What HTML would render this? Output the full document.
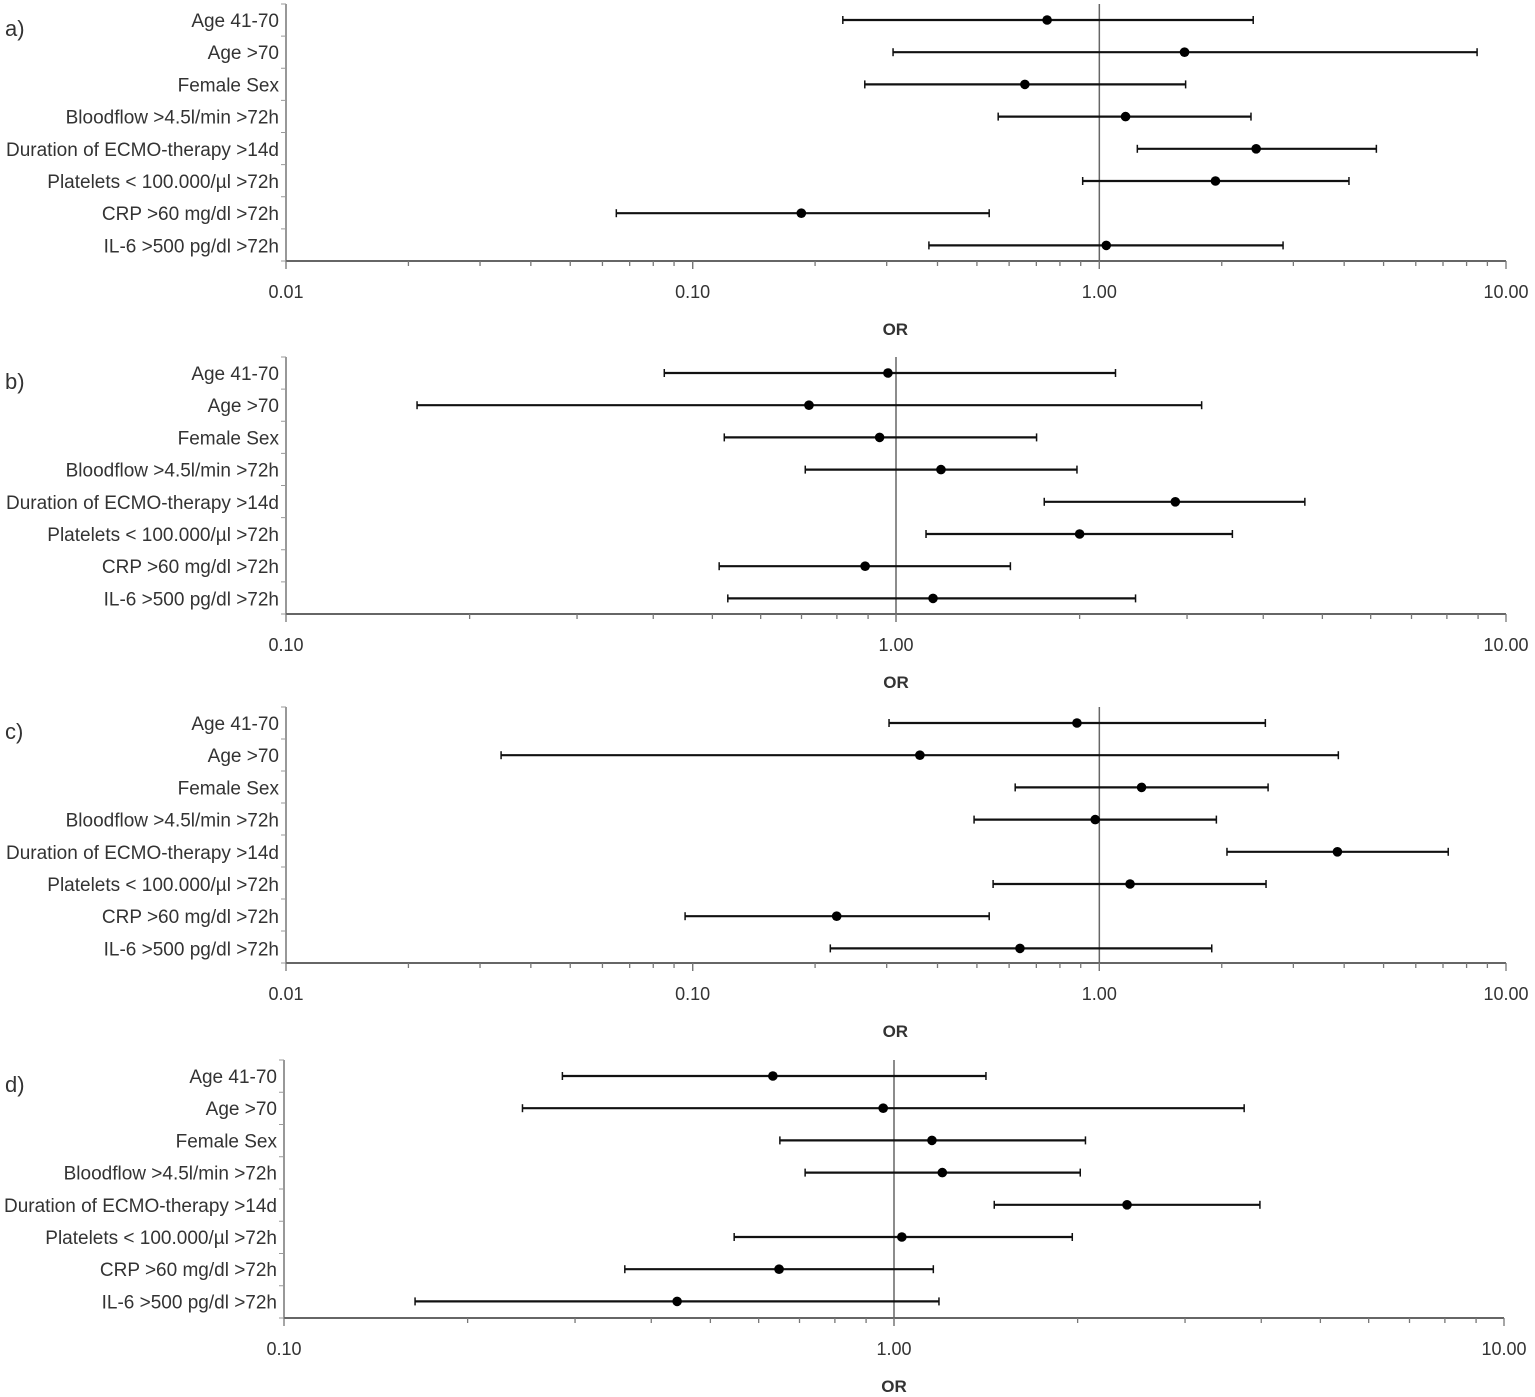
<!DOCTYPE html>
<html><head><meta charset="utf-8"><style>
html,body{margin:0;padding:0;background:#fff}
svg{display:block}
text{font-family:"Liberation Sans",Arial,sans-serif;fill:#333}
</style></head><body>
<svg id="chart" width="1535" height="1397" viewBox="0 0 1535 1397"></svg>
<script>
const categories = ["Age 41-70","Age >70","Female Sex","Bloodflow >4.5l/min >72h","Duration of ECMO-therapy >14d","Platelets < 100.000/µl >72h","CRP >60 mg/dl >72h","IL-6 >500 pg/dl >72h"];
const panelLetters = ["a)","b)","c)","d)"];
const aPoint=[0.744,1.62,0.656,1.16,2.43,1.93,0.185,1.04];
const aLow=[0.234,0.311,0.265,0.564,1.24,0.91,0.0649,0.381];
const aHigh=[2.39,8.49,1.63,2.36,4.80,4.11,0.536,2.83];
const bPoint=[0.97,0.72,0.94,1.185,2.87,2.00,0.89,1.15];
const bLow=[0.417,0.164,0.523,0.71,1.75,1.12,0.513,0.53];
const bHigh=[2.29,3.17,1.70,1.98,4.68,3.56,1.54,2.47];
const cPoint=[0.881,0.362,1.27,0.977,3.85,1.19,0.226,0.638];
const cLow=[0.304,0.0338,0.621,0.492,2.06,0.548,0.0958,0.218];
const cHigh=[2.56,3.87,2.60,1.94,7.21,2.57,0.536,1.89];
const dPoint=[0.633,0.96,1.154,1.20,2.41,1.03,0.648,0.441];
const dLow=[0.286,0.246,0.65,0.715,1.46,0.547,0.362,0.164];
const dHigh=[1.415,3.75,2.06,2.02,3.98,1.96,1.16,1.185];
const ticksA=["0.01","0.10","1.00","10.00"];
const ticksB=["0.10","1.00","10.00"];

const panels=[
 {p:aPoint,l:aLow,h:aHigh,min:0.01,max:10,ticks:ticksA,x0:286,x1:1506,top:4,axisY:261,row0:20,labX:279},
 {p:bPoint,l:bLow,h:bHigh,min:0.1,max:10,ticks:ticksB,x0:286,x1:1506,top:357,axisY:614,row0:373,labX:279},
 {p:cPoint,l:cLow,h:cHigh,min:0.01,max:10,ticks:ticksA,x0:286,x1:1506,top:707,axisY:963,row0:723,labX:279},
 {p:dPoint,l:dLow,h:dHigh,min:0.1,max:10,ticks:ticksB,x0:284,x1:1504,top:1060,axisY:1318,row0:1076,labX:277}
];
const svg=document.getElementById('chart');
const NS="http://www.w3.org/2000/svg";
function mk(tag,attrs,parent){const e=document.createElementNS(NS,tag);for(const k in attrs)e.setAttribute(k,attrs[k]);parent.appendChild(e);return e;}
panels.forEach((P,pi)=>{
  const g=mk('g',{},svg);
  
  
  const lmin=Math.log10(P.min),lmax=Math.log10(P.max);
  const xs=v=>P.x0+(Math.log10(v)-lmin)/(lmax-lmin)*(P.x1-P.x0);
  const ys=i=>P.row0+i*32.2;
  const t=mk('text',{x:5,y:P.row0+16,'font-size':22},g);t.textContent=panelLetters[pi];
  
  
  const ya=mk('line',{x1:P.x0,y1:P.top,x2:P.x0,y2:P.axisY,stroke:'#777','stroke-width':1.5},g);
  
  
  for(let i=0;i<=8;i++){const yy=P.top+i*(P.axisY-P.top)/8;mk('line',{x1:P.x0-5,y1:yy,x2:P.x0,y2:yy,stroke:'#999','stroke-width':1},g);}
  const xa=mk('line',{x1:P.x0,y1:P.axisY,x2:P.x1,y2:P.axisY,stroke:'#666','stroke-width':2},g);
  
  
  for(let d=lmin;d<lmax;d++){for(let m=1;m<=10;m++){const v=m*Math.pow(10,d);const xx=xs(v);
    mk('line',{x1:xx,y1:P.axisY,x2:xx,y2:P.axisY+(m===1||m===10?8:5),stroke:'#777','stroke-width':1.3},g);}}
  P.ticks.forEach(s=>{const tt=mk('text',{x:xs(parseFloat(s)),y:P.axisY+37,'font-size':18,'text-anchor':'middle'},g);tt.textContent=s;
    
    });
  const ot=mk('text',{x:xs(1)-(P.min===0.01?204:0),y:P.axisY+74,'font-size':17,'font-weight':'bold','text-anchor':'middle'},g);
  ot.textContent='OR';
  
  
  const rl=mk('line',{x1:xs(1),y1:P.top,x2:xs(1),y2:P.axisY,stroke:'#666','stroke-width':1.5},g);
  
  
  categories.forEach((c,i)=>{
    const y=ys(i);
    const lt=mk('text',{x:P.labX,y:y+7,'font-size':19,'text-anchor':'end'},g);lt.textContent=c;
    
    
    const xl=xs(P.l[i]),xh=xs(P.h[i]),xp=xs(P.p[i]);
    const ci=mk('line',{x1:xl,y1:y,x2:xh,y2:y,stroke:'#111','stroke-width':2.2},g);
    
    
    mk('line',{x1:xl,y1:y-4,x2:xl,y2:y+4,stroke:'#111','stroke-width':1.5},g);
    mk('line',{x1:xh,y1:y-4,x2:xh,y2:y+4,stroke:'#111','stroke-width':1.5},g);
    const pt=mk('circle',{cx:xp,cy:y,r:4.8,fill:'#000'},g);
    
    
  });
});
</script>
</body></html>
